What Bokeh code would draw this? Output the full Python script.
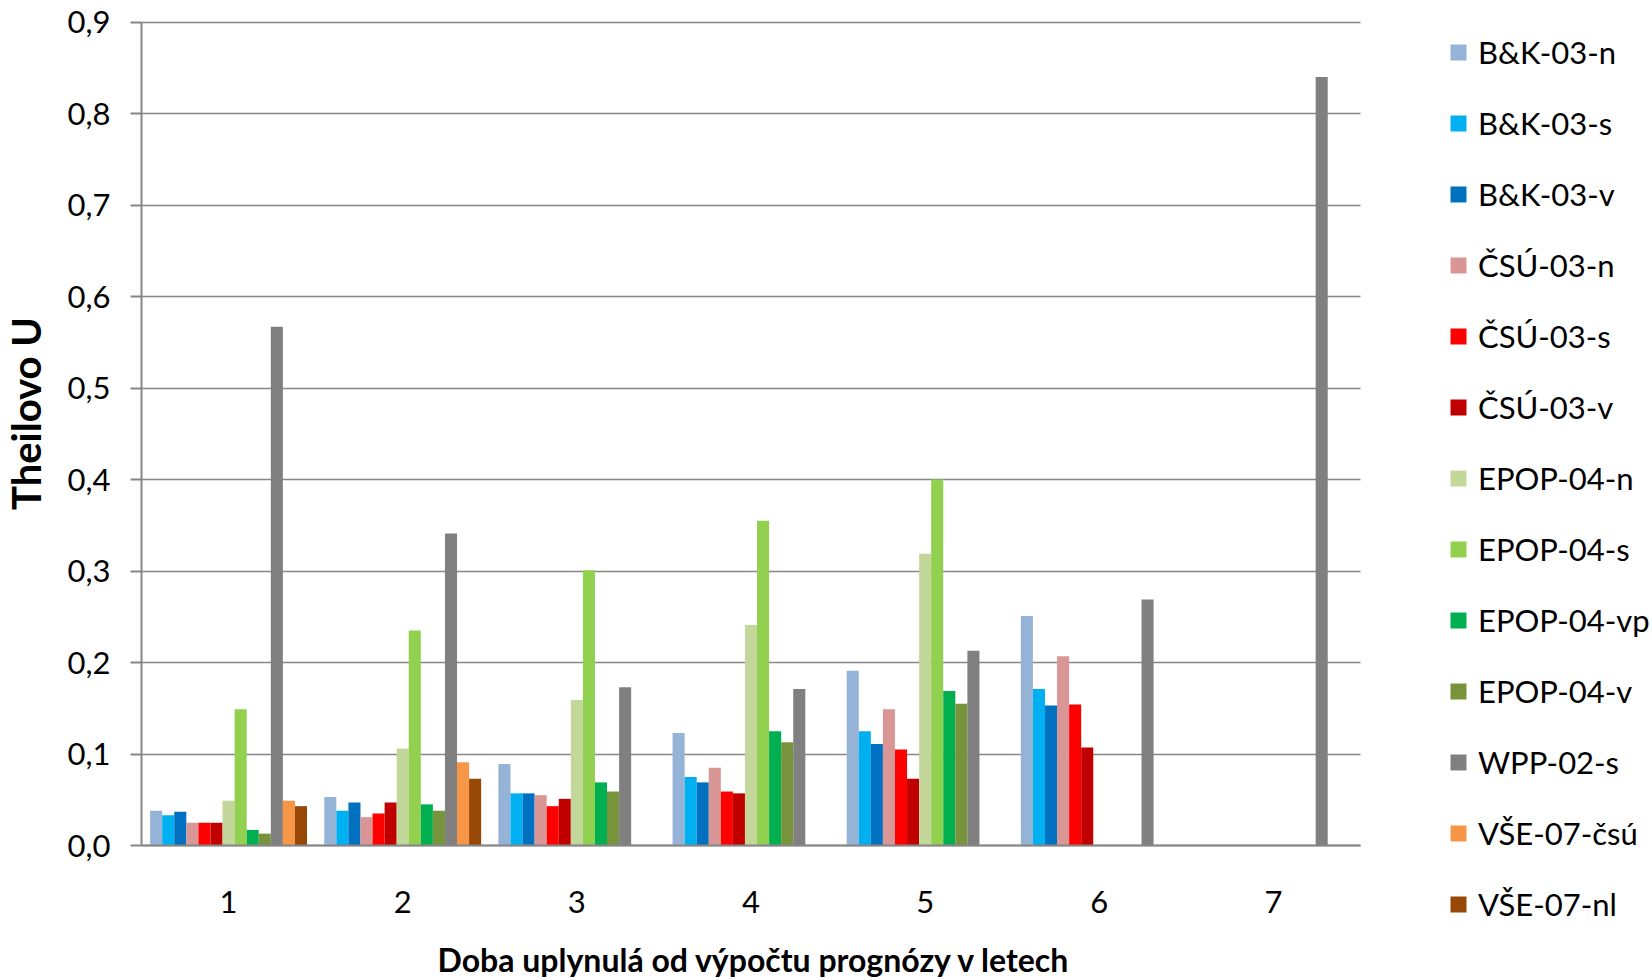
import math
from bokeh.plotting import figure
from bokeh.models import (ColumnDataSource, Range1d, FixedTicker,
                          CustomJSTickFormatter, Legend, LegendItem, Label)
from bokeh.transform import dodge
from bokeh.embed import file_html
from bokeh.resources import INLINE

# Years elapsed since the forecast was computed
years = ["1", "2", "3", "4", "5", "6", "7"]

# Theil's U per forecast series (None = no value for that horizon)
bk03n    = [0.038, 0.053, 0.089, 0.123, 0.191, 0.251, None]
bk03s    = [0.033, 0.038, 0.057, 0.075, 0.125, 0.171, None]
bk03v    = [0.037, 0.047, 0.057, 0.069, 0.111, 0.153, None]
csu03n   = [0.025, 0.031, 0.055, 0.085, 0.149, 0.207, None]
csu03s   = [0.025, 0.035, 0.043, 0.059, 0.105, 0.154, None]
csu03v   = [0.025, 0.047, 0.051, 0.057, 0.073, 0.107, None]
epop04n  = [0.049, 0.106, 0.159, 0.241, 0.319, None, None]
epop04s  = [0.149, 0.235, 0.301, 0.355, 0.400, None, None]
epop04vp = [0.017, 0.045, 0.069, 0.125, 0.169, None, None]
epop04v  = [0.013, 0.038, 0.059, 0.113, 0.155, None, None]
wpp02s   = [0.567, 0.341, 0.173, 0.171, 0.213, 0.269, 0.840]
vse07csu = [0.049, 0.091, None, None, None, None, None]
vse07nl  = [0.043, 0.073, None, None, None, None, None]

series_names = ["B&K-03-n", "B&K-03-s", "B&K-03-v", "ČSÚ-03-n", "ČSÚ-03-s",
                "ČSÚ-03-v", "EPOP-04-n", "EPOP-04-s", "EPOP-04-vp",
                "EPOP-04-v", "WPP-02-s", "VŠE-07-čsú", "VŠE-07-nl"]
series_values = [bk03n, bk03s, bk03v, csu03n, csu03s, csu03v, epop04n,
                 epop04s, epop04vp, epop04v, wpp02s, vse07csu, vse07nl]
series_colors = ["#95B3D7", "#00B0F0", "#0070C0", "#DA9694", "#FF0000",
                 "#C00000", "#C4D79B", "#92D050", "#00B050", "#77933C",
                 "#808080", "#F79646", "#974706"]

y_ticks = [0, 0.1, 0.2, 0.3, 0.4, 0.5, 0.6, 0.7, 0.8, 0.9]

nan = float("nan")
positions = list(range(1, len(years) + 1))
data = {"pos": positions}
for i, vals in enumerate(series_values):
    data[f"s{i}"] = [nan if v is None else v for v in vals]
source = ColumnDataSource(data)

FONT = "Lato"
GRID = "#868686"

# Canvas and the pixel box of the bar area inside it; the whole canvas is the
# plotting frame so the legend and the titles can live next to the bars.
W, H = 1652, 980
L, R, T, B = 141, 1360, 21.7, 845
x_lo, x_hi = 0.5, len(years) + 0.5
y_lo, y_hi = y_ticks[0], y_ticks[-1]
kx = (x_hi - x_lo) / (R - L)
ky = (y_hi - y_lo) / (B - T)
x_start, x_end = x_lo - L * kx, x_hi + (W - R) * kx
y_start, y_end = y_lo - (H - B) * ky, y_hi + T * ky


def px_x(px):
    return x_start + px * kx


def px_y(py):
    return y_end - py * ky


p = figure(width=W, height=H, x_range=Range1d(x_start, x_end),
           y_range=Range1d(y_start, y_end), output_backend="svg",
           toolbar_location=None, min_border=0, min_border_left=0,
           min_border_right=0, min_border_top=0, min_border_bottom=0)
p.outline_line_color = None
p.background_fill_color = "white"
p.border_fill_color = "white"

n = len(series_names)
bar_w = 0.0693
items = []
for i, (name, color) in enumerate(zip(series_names, series_colors)):
    off = (i - (n - 1) / 2) * bar_w
    r = p.vbar(x=dodge("pos", off), top=f"s{i}", width=bar_w,
               source=source, fill_color=color, line_color=None)
    items.append(LegendItem(label=name, renderers=[r]))

# y axis, drawn at the left edge of the bar area
yt = FixedTicker(ticks=y_ticks)
p.yaxis.fixed_location = x_lo
p.yaxis.bounds = (y_lo, y_hi)
p.yaxis.ticker = yt
p.yaxis.formatter = CustomJSTickFormatter(code="return tick.toFixed(1).replace('.', ',')")
p.yaxis.axis_line_color = GRID
p.yaxis.axis_line_width = 2
p.yaxis.major_tick_line_color = GRID
p.yaxis.major_tick_line_width = 2
p.yaxis.major_tick_out = 11
p.yaxis.major_tick_in = 0
p.yaxis.minor_tick_line_color = None
p.yaxis.major_label_standoff = 20

# x axis along zero
p.xaxis.fixed_location = 0
p.xaxis.bounds = (x_lo, x_hi)
p.xaxis.ticker = FixedTicker(ticks=positions)
p.xaxis.major_label_overrides = {pos: lab for pos, lab in zip(positions, years)}
p.xaxis.axis_line_color = GRID
p.xaxis.axis_line_width = 2
p.xaxis.major_tick_line_color = None
p.xaxis.major_tick_out = 0
p.xaxis.major_tick_in = 0
p.xaxis.minor_tick_line_color = None
p.xaxis.major_label_standoff = 45

for ax in (p.xaxis, p.yaxis):
    ax.major_label_text_font = FONT
    ax.major_label_text_font_size = "31px"
    ax.major_label_text_color = "black"

p.xgrid.grid_line_color = None
p.ygrid.ticker = yt
p.ygrid.bounds = (y_lo, y_hi)
p.ygrid.cross_bounds = (x_lo, x_hi)
p.ygrid.grid_line_color = GRID
p.ygrid.grid_line_width = 1.5

# axis titles
p.add_layout(Label(x=px_x(754), y=px_y(959),
                   text="Doba uplynulá od výpočtu prognózy v letech",
                   text_font=FONT, text_font_size="32px", text_font_style="bold",
                   text_color="black", text_align="center",
                   text_baseline="alphabetic"))
p.add_layout(Label(x=px_x(25), y=px_y(413), text="Theilovo U", angle=math.pi / 2,
                   text_font=FONT, text_font_size="40px", text_font_style="bold",
                   text_color="black", text_align="center",
                   text_baseline="alphabetic"))

# legend to the right of the bars
leg = Legend(items=items, location=(1448, 57))
leg.border_line_color = None
leg.background_fill_alpha = 0
leg.padding = 0
leg.margin = 0
leg.glyph_width = 20
leg.glyph_height = 20
leg.label_height = 38
leg.label_standoff = 10
leg.spacing = 33
leg.label_text_font = FONT
leg.label_text_font_size = "31px"
leg.label_text_color = "black"
p.add_layout(leg)

open("out.html", "w").write(file_html(p, INLINE))
